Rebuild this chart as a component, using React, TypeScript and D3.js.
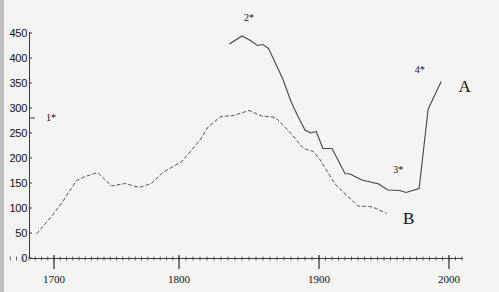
import React from "react";
import * as d3 from "d3";

const yearsA = [1836, 1845, 1851, 1856, 1860, 1864, 1870, 1874, 1880, 1885, 1890, 1894, 1898, 1903, 1910, 1920, 1924, 1933, 1946, 1953, 1962, 1967, 1977, 1984, 1994];
const valuesA = [428, 444, 435, 425, 427, 419, 383, 359, 313, 283, 256, 250, 253, 219, 219, 169, 168, 156, 148, 136, 135, 131, 139, 298, 353];

const yearsB = [1686, 1699, 1707, 1718, 1725, 1735, 1746, 1757, 1768, 1778, 1787, 1802, 1815, 1821, 1830, 1839, 1850, 1859, 1869, 1880, 1889, 1896, 1901, 1912, 1921, 1930, 1939, 1944, 1952];
const valuesB = [48, 86, 113, 155, 163, 171, 144, 149, 141, 149, 171, 193, 236, 263, 283, 285, 295, 284, 281, 249, 219, 213, 196, 149, 126, 104, 103, 99, 89];

const yTicks = [0, 50, 100, 150, 200, 250, 300, 350, 400, 450];
const xMajor = [1700, 1800, 1900, 2000];
const notes = [
  { text: "1*", year: 1697.5, value: 275 },
  { text: "2*", year: 1850, value: 474 },
  { text: "3*", year: 1961, value: 170 },
  { text: "4*", year: 1977.5, value: 370 },
];
const seriesLabels = [
  { text: "A", year: 2012, value: 333 },
  { text: "B", year: 1969, value: 69 },
];
const marker1 = 280;

export default function App() {
  const W = 499, H = 292;
  const x = d3.scaleLinear().domain([1700, 1800, 1900, 2000]).range([54, 179, 319, 449]);
  const y = d3.scaleLinear().domain([0, 450]).range([258, 33]);
  const xMinor = d3.range(1665, 2011, 5);
  const mk = d3.line<[number, number]>().x(d => x(d[0])).y(d => y(d[1]));
  const lineA = mk(yearsA.map((yr, i) => [yr, valuesA[i]] as [number, number]));
  const lineB = mk(yearsB.map((yr, i) => [yr, valuesB[i]] as [number, number]));
  const ink = "#3a3a3a";
  return (
    <svg width={W} height={H} style={{ position: "absolute", left: 0, top: 0 }}>
      <rect x={0} y={0} width={W} height={H} fill="#f4f4f2" />
      <rect x={0} y={0} width={4} height={H} fill="#bdbdbd" />
      <line x1={29.5} x2={29.5} y1={y(450) - 1} y2={y(0)} stroke={ink} strokeWidth={1} />
      {yTicks.map(t => (
        <g key={t}>
          <line x1={29.5} x2={32} y1={y(t)} y2={y(t)} stroke={ink} strokeWidth={1} />
          <text x={27} y={y(t) + 4} textAnchor="end" fontFamily="Liberation Sans, Arial, sans-serif" fontSize={11} fill="#111" letterSpacing={-0.3}>{t}</text>
        </g>
      ))}
      <line x1={29.5} x2={35} y1={y(marker1)} y2={y(marker1)} stroke={ink} strokeWidth={1} />
      <line x1={29.5} x2={463} y1={y(0) + 0.5} y2={y(0) + 0.5} stroke={ink} strokeWidth={1} />
      {xMinor.map(t => (
        <line key={t} x1={x(t)} x2={x(t)} y1={y(0) - 1.5} y2={y(0) + 2.5} stroke={ink} strokeWidth={0.8} />
      ))}
      {xMajor.map(t => (
        <g key={t}>
          <line x1={x(t)} x2={x(t)} y1={y(0) - 3} y2={y(0) + 11} stroke={ink} strokeWidth={1.3} />
          <text x={x(t)} y={283} textAnchor="middle" fontFamily="Liberation Serif, Times New Roman, serif" fontSize={11} fill="#111">{t}</text>
        </g>
      ))}
      <path d={lineB || ""} fill="none" stroke="#555" strokeWidth={1} strokeDasharray="4,2" />
      <path d={lineA || ""} fill="none" stroke="#444" strokeWidth={1.1} />
      {notes.map(n => (
        <text key={n.text} x={x(n.year)} y={y(n.value)} textAnchor="middle" fontFamily="Liberation Serif, Times New Roman, serif" fontSize={10} fill="#111">{n.text}</text>
      ))}
      {seriesLabels.map(n => (
        <text key={n.text} x={x(n.year)} y={y(n.value)} textAnchor="middle" fontFamily="Liberation Serif, Times New Roman, serif" fontSize={17} fill="#111">{n.text}</text>
      ))}
    </svg>
  );
}
